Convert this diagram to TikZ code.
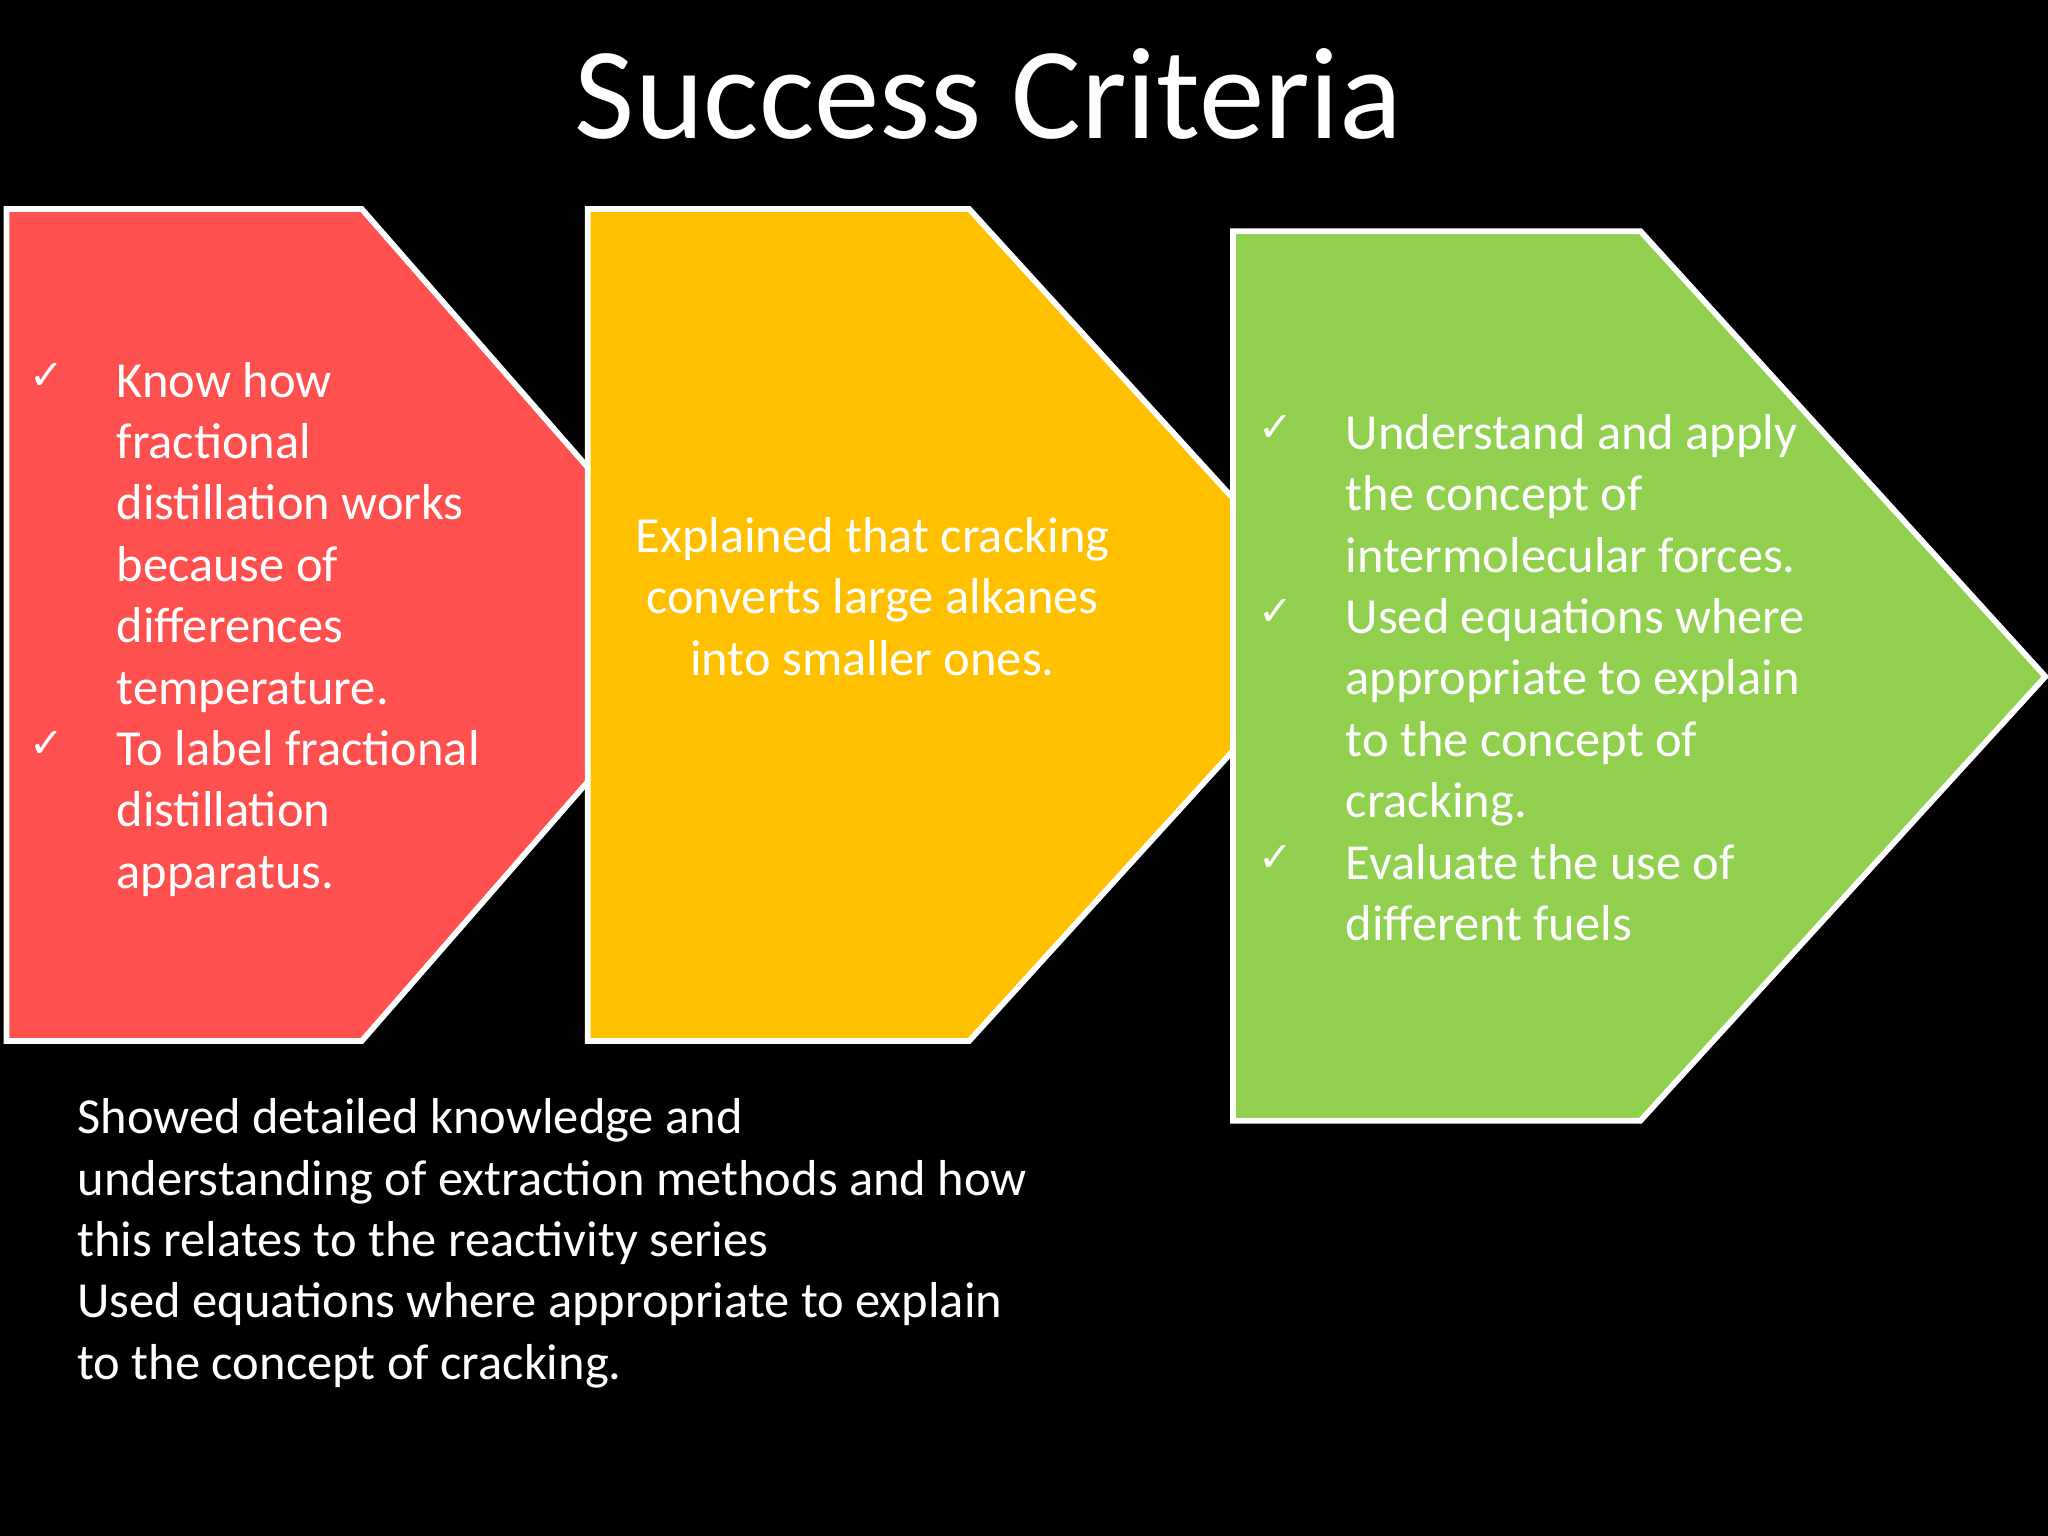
\documentclass[tikz,border=0pt]{standalone}
\usepackage{fontspec}
\setmainfont{Carlito}
\newfontfamily\chkfont{DejaVu Sans}
\definecolor{cred}{HTML}{FF5050}
\definecolor{cyel}{HTML}{FFC000}
\definecolor{cgrn}{HTML}{92D050}
\begin{document}
\begin{tikzpicture}[x=0.02cm,y=-0.02cm,
  shp/.style={draw=white,line width=2.5pt,line join=miter},
  ln/.style={anchor=base west,inner sep=0,text=white,font=\fontsize{22}{26}\selectfont},
  lc/.style={anchor=base,inner sep=0,text=white,font=\fontsize{22}{26}\selectfont},
  chk/.style={anchor=base west,inner sep=0,text=white,font=\chkfont\fontsize{18}{20}\selectfont}]
\fill[black] (0,0) rectangle (1568,1176);
\useasboundingbox (0,0) rectangle (1568,1176);
\node[anchor=base,inner sep=0,text=white,font=\fontsize{57}{60}\selectfont] (title) at (757,106) {Success Criteria};
\draw[shp,fill=cred] (5,160) -- (277,160) -- (555,478) -- (277,797) -- (5,797) -- cycle;
\draw[shp,fill=cyel] (450,160) -- (742,160) -- (1032,478) -- (742,797) -- (450,797) -- cycle;
\draw[shp,fill=cgrn] (944,177) -- (1256,177) -- (1566,518) -- (1256,858) -- (944,858) -- cycle;
% red
\foreach \t [count=\i] in {Know how,fractional,distillation works,because of,differences,temperature.,To label fractional,distillation,apparatus.}
  \node[ln] (r\i) at (89,{291+13+47*(\i-1)}) {\t};
\node[chk] (rc1) at (22,298) {✓};
\node[chk] (rc2) at (22,580) {✓};
% yellow
\foreach \t [count=\i] in {Explained that cracking,converts large alkanes,into smaller ones.}
  \node[lc] (y\i) at (668,{410+13+47*(\i-1)}) {\t};
% green
\foreach \t [count=\i] in {Understand and apply,the concept of,intermolecular forces.,Used equations where,appropriate to explain,to the concept of,cracking.,Evaluate the use of,different fuels}
  \node[ln] (g\i) at (1030,{331+13+47*(\i-1)}) {\t};
\node[chk] (gc1) at (963,338) {✓};
\node[chk] (gc2) at (963,479) {✓};
\node[chk] (gc3) at (963,667) {✓};
% bottom
\foreach \t [count=\i] in {Showed detailed knowledge and,understanding of extraction methods and how,this relates to the reactivity series,Used equations where appropriate to explain,to the concept of cracking.}
  \node[ln] (b\i) at (59,{855+13+47*(\i-1)}) {\t};
\end{tikzpicture}
\end{document}
